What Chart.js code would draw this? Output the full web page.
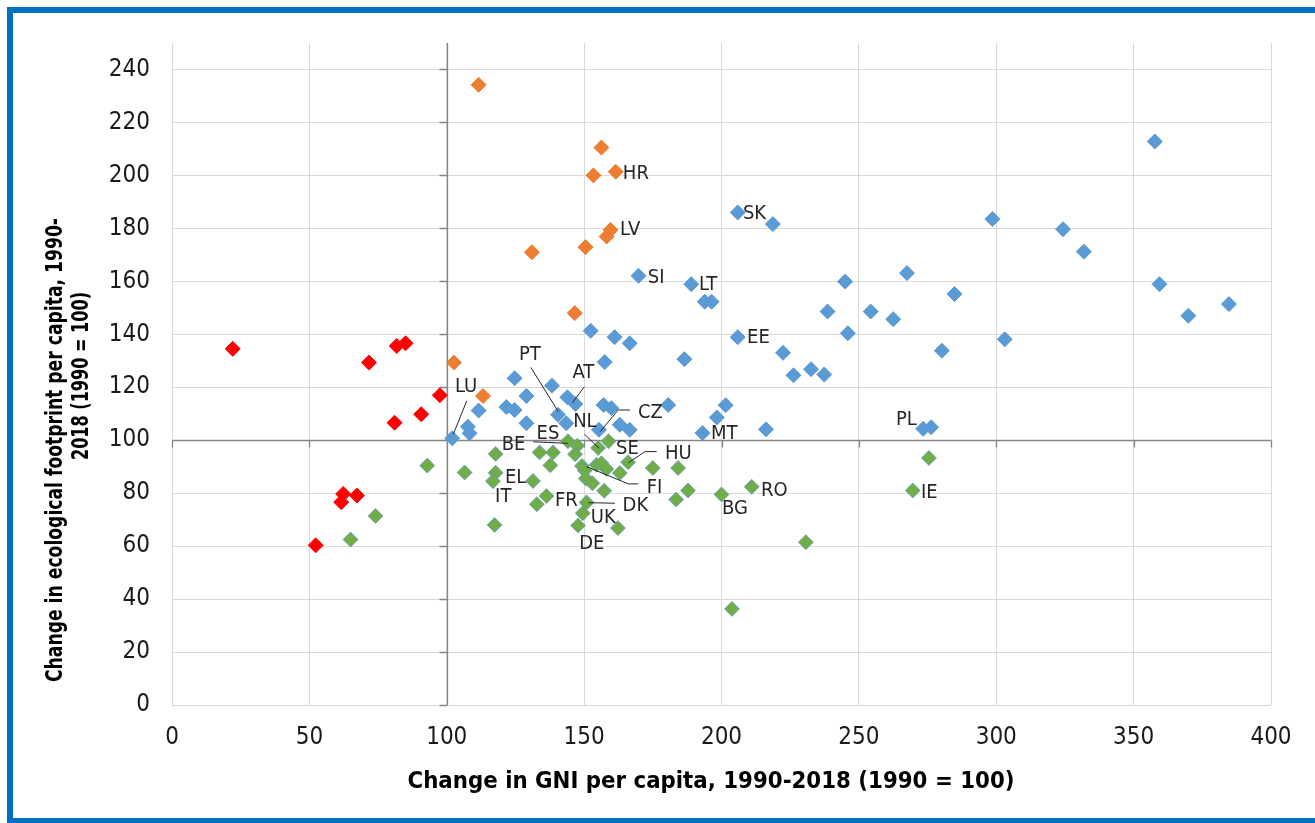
<!DOCTYPE html>
<html>
<head>
<meta charset="utf-8">
<script src="https://cdn.jsdelivr.net/npm/chart.js@4.4.1/dist/chart.umd.min.js"></script>
<style>
    html, body { margin: 0; padding: 0; background: #fff; overflow: hidden; width: 1315px; height: 823px; }
    #wrap { position: relative; width: 1315px; height: 823px; overflow: hidden; }
    .bar { position: absolute; background: #0070C0; pointer-events: none; }
    #barTop { left: 7px; top: 7px; width: 1308px; height: 6px; }
    #barLeft { left: 7px; top: 7px; width: 6px; height: 816px; }
    #barBottom { left: 7px; top: 818px; width: 1308px; height: 5px; }
    canvas { position: absolute; left: 0; top: 0; }
</style>
</head>
<body>
<div id="wrap">
    <canvas id="chart" width="1315" height="823"></canvas>
    <div class="bar" id="barTop"></div>
    <div class="bar" id="barLeft"></div>
    <div class="bar" id="barBottom"></div>
</div>
<script>
// ==========================================
// DATA (GNI change vs ecological footprint change, 1990 = 100)
// ==========================================
const redGni = [22.1, 71.7, 81.8, 85.0, 97.5, 90.7, 81.0, 62.3, 61.6, 67.3, 52.3];
const redFootprint = [134.5, 129.3, 135.6, 136.6, 117.0, 109.8, 106.6, 79.7, 76.6, 79.1, 60.3];

const orangeGni = [111.6, 156.3, 153.4, 161.5, 159.6, 158.2, 150.5, 131.0, 146.6, 102.6, 113.2];
const orangeFootprint = [234.2, 210.5, 200.0, 201.4, 179.4, 176.9, 172.9, 171.0, 148.0, 129.3, 116.7];

const blueGni = [357.7, 205.9, 218.7, 298.6, 324.3, 331.9, 267.5, 245.0, 189.0, 359.4,
    193.9, 196.4, 284.8, 384.7, 369.9, 238.6, 254.3, 262.5, 205.9, 246.0,
    303.1, 186.5, 222.4, 280.2, 226.2, 232.6, 237.4, 201.5, 198.3, 193.1,
    216.2, 273.4, 276.3, 169.8, 152.4, 161.1, 166.6, 157.5, 124.7, 138.3,
    129.0, 111.6, 121.7, 124.7, 143.9, 146.8, 140.5, 143.5, 129.0, 157.1,
    159.9, 163.0, 166.6, 155.4, 180.6, 107.7, 108.3, 102.0];
const blueFootprint = [212.8, 186.0, 181.6, 183.5, 179.7, 171.2, 163.1, 159.9, 158.9, 158.9,
    152.3, 152.3, 155.2, 151.4, 147.0, 148.6, 148.6, 145.7, 138.9, 140.4,
    138.1, 130.6, 133.0, 133.8, 124.5, 126.8, 124.8, 113.2, 108.6, 102.7,
    104.1, 104.3, 104.9, 162.1, 141.3, 138.9, 136.6, 129.5, 123.4, 120.6,
    116.7, 111.2, 112.5, 111.4, 116.2, 113.7, 109.6, 106.4, 106.4, 113.3,
    112.1, 105.8, 103.9, 103.9, 113.3, 105.1, 102.6, 100.7];

const greenGni = [65.0, 74.1, 92.9, 106.5, 117.8, 117.8, 116.8, 117.4, 131.4, 133.8,
    138.7, 137.7, 136.3, 132.8, 144.1, 147.5, 146.7, 155.1, 158.9, 149.2,
    150.2, 150.6, 153.0, 154.5, 156.3, 158.1, 163.0, 166.0, 157.3, 175.0,
    184.2, 187.8, 183.5, 150.9, 149.5, 147.8, 162.3, 200.0, 211.0, 203.8,
    230.7, 275.5, 269.6];
const greenFootprint = [62.5, 71.4, 90.4, 87.8, 94.8, 87.7, 84.5, 68.0, 84.6, 95.4,
    95.4, 90.5, 78.9, 75.8, 99.6, 97.9, 94.7, 97.1, 99.6, 90.3,
    88.6, 85.5, 83.7, 90.7, 91.3, 89.1, 87.6, 91.7, 80.9, 89.5,
    89.5, 81.0, 77.6, 76.5, 72.4, 67.8, 66.8, 79.5, 82.4, 36.3,
    61.5, 93.3, 81.0];

// country labels: [text, gni, footprint] (left edge / middle of the text)
const countryLabels = [
    ['HR', 164.1, 200.9], ['LV', 163.1, 179.8], ['SI', 173.2, 161.6], ['LT', 191.8, 159.0],
    ['SK', 207.8, 185.8], ['EE', 209.3, 139.0], ['MT', 196.2, 102.7], ['PL', 263.5, 108.0],
    ['RO', 214.4, 81.2], ['BG', 200.2, 74.4], ['IE', 272.6, 80.4], ['PT', 126.3, 132.6],
    ['AT', 145.8, 125.9], ['LU', 103.0, 120.5], ['CZ', 169.6, 110.8], ['NL', 146.0, 107.4],
    ['ES', 132.7, 102.8], ['BE', 120.0, 98.6], ['SE', 161.6, 97.1], ['HU', 179.4, 95.3],
    ['FI', 172.8, 82.4], ['DK', 164.0, 75.5], ['UK', 152.4, 71.1], ['DE', 148.2, 61.1],
    ['FR', 139.4, 77.4], ['EL', 121.2, 86.2], ['IT', 117.6, 78.9]
];

// leader lines, in data units
const leaderLines = [
    [[130.6, 127.5], [140.6, 110.8]],
    [[150.1, 120.2], [145.8, 114.2]],
    [[107.3, 114.9], [102.4, 102.3]],
    [[166.7, 111.4], [162.4, 111.4], [155.8, 103.2]],
    [[150.1, 102.3], [155.5, 96.9]],
    [[131.5, 99.4], [144.2, 98.8]],
    [[176.4, 95.7], [172.2, 95.7], [166.1, 91.5]],
    [[169.7, 83.5], [166.1, 83.5], [150.9, 90.0]],
    [[161.2, 76.2], [151.5, 76.4]]
];

const X_TITLE = 'Change in GNI per capita, 1990-2018 (1990 = 100)';
const Y_TITLE = ['Change in ecological footprint per capita, 1990-', '2018 (1990 = 100)'];

const NARROW = "'Liberation Sans Narrow', 'Arial Narrow', 'DejaVu Sans Condensed', sans-serif";

function toPoints(xs, ys) {
    return xs.map((x, i) => ({ x, y: ys[i] }));
}

function makeSeries(label, xs, ys, color, border, order) {
    return {
        label,
        data: toPoints(xs, ys),
        backgroundColor: color,
        borderColor: border,
        borderWidth: 1,
        pointStyle: 'rectRot',
        pointRadius: 7.5,
        pointHoverRadius: 7.5,
        order
    };
}

// fit text to a measured width (Excel squeezes its fonts)
function drawFitted(ctx, text, cx, cy, width, rotate) {
    ctx.save();
    ctx.translate(cx, cy);
    if (rotate) ctx.rotate(-Math.PI / 2);
    const w = ctx.measureText(text).width;
    ctx.scale(width / w, 1);
    ctx.fillText(text, 0, 0);
    ctx.restore();
}

const crossAxes = {
    id: 'crossAxes',
    beforeDatasetsDraw(chart) {
        const { ctx, chartArea, scales: { x, y } } = chart;
        const px = Math.round(x.getPixelForValue(100)) + 0.5;
        const py = Math.round(y.getPixelForValue(100)) + 0.5;
        ctx.save();
        ctx.strokeStyle = '#868686';
        ctx.lineWidth = 1.3;
        ctx.beginPath();
        ctx.moveTo(px, chartArea.top);
        ctx.lineTo(px, chartArea.bottom);
        ctx.moveTo(chartArea.left, py);
        ctx.lineTo(chartArea.right, py);
        y.ticks.forEach(t => {
            const ty = Math.round(y.getPixelForValue(t.value)) + 0.5;
            ctx.moveTo(px - 8, ty);
            ctx.lineTo(px, ty);
        });
        x.ticks.forEach(t => {
            const tx = Math.round(x.getPixelForValue(t.value)) + 0.5;
            ctx.moveTo(tx, py);
            ctx.lineTo(tx, py + 7);
        });
        ctx.stroke();
        ctx.restore();
    }
};

const annotations = {
    id: 'annotations',
    afterDatasetsDraw(chart) {
        const { ctx, scales: { x, y } } = chart;
        ctx.save();
        ctx.strokeStyle = '#262626';
        ctx.lineWidth = 1;
        leaderLines.forEach(line => {
            ctx.beginPath();
            line.forEach(([gx, gy], i) => {
                const px = x.getPixelForValue(gx);
                const py = y.getPixelForValue(gy);
                if (i === 0) ctx.moveTo(px, py); else ctx.lineTo(px, py);
            });
            ctx.stroke();
        });
        ctx.fillStyle = '#262626';
        ctx.font = '20px ' + NARROW;
        ctx.textAlign = 'left';
        ctx.textBaseline = 'middle';
        countryLabels.forEach(([text, gx, gy]) => {
            ctx.fillText(text, x.getPixelForValue(gx), y.getPixelForValue(gy) + 1);
        });
        ctx.restore();
    },
    afterDraw(chart) {
        const { ctx } = chart;
        ctx.save();
        ctx.fillStyle = '#000';
        ctx.font = 'bold 23px ' + NARROW;
        ctx.textAlign = 'center';
        ctx.textBaseline = 'middle';
        drawFitted(ctx, X_TITLE, 711, 782, 607, false);
        drawFitted(ctx, Y_TITLE[0], 56, 450, 464, true);
        drawFitted(ctx, Y_TITLE[1], 82, 376, 168, true);
        ctx.restore();
    }
};

const tickFont = { family: NARROW, size: 24 };

new Chart(document.getElementById('chart'), {
    type: 'scatter',
    data: {
        datasets: [
            makeSeries('red', redGni, redFootprint, '#FF0000', '#FF0000', 4),
            makeSeries('orange', orangeGni, orangeFootprint, '#ED7D31', '#ED7D31', 3),
            makeSeries('blue', blueGni, blueFootprint, '#5B9BD5', '#5B9BD5', 2),
            makeSeries('green', greenGni, greenFootprint, '#70AD47', 'rgba(91,155,213,0.7)', 1)
        ]
    },
    options: {
        responsive: false,
        animation: false,
        events: [],
        layout: { padding: { left: 0, top: 43, right: 44, bottom: 0 } },
        plugins: {
            legend: { display: false },
            tooltip: { enabled: false }
        },
        scales: {
            x: {
                type: 'linear',
                min: 0,
                max: 400,
                border: { display: false },
                grid: { color: '#D9D9D9', lineWidth: 1, drawTicks: false },
                ticks: { stepSize: 50, padding: 18, color: '#1a1a1a', font: tickFont, maxRotation: 0 },
                afterFit: (scale) => { scale.height = 118; }
            },
            y: {
                type: 'linear',
                min: 0,
                max: 250,
                border: { display: false },
                grid: { color: '#D9D9D9', lineWidth: 1, drawTicks: false },
                ticks: { stepSize: 20, includeBounds: false, padding: 22, color: '#1a1a1a', font: tickFont },
                afterFit: (scale) => { scale.width = 172; }
            }
        }
    },
    plugins: [crossAxes, annotations]
});
</script>
</body>
</html>
